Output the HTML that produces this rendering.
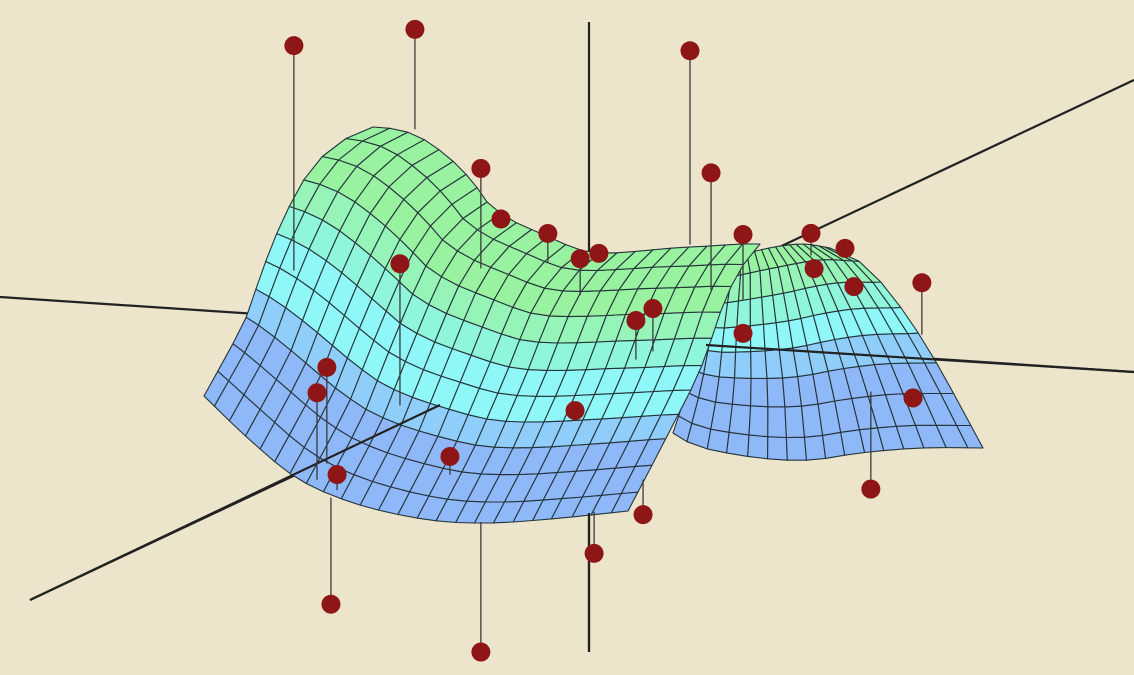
<!DOCTYPE html>
<html><head><meta charset="utf-8"><style>
html,body{margin:0;padding:0;background:#ede4cc;}
svg{display:block;}
</style></head><body>
<svg id="chart" width="1134" height="675" viewBox="0 0 1134 675">
<rect width="1134" height="675" fill="#ede4cc"/>
<g id="axesBack"></g>
<g id="surf"></g>
<g id="axesFront"></g>
<g id="pts"></g>
</svg>
<script>
// scatter points (world coords)
const ptX = [-0.868,-0.512,0.297,-0.318,0.359,-0.259,-0.121,-0.026,0.029,0.453,0.653,0.753,0.662,0.779,0.979,-0.556,0.138,0.188,0.453,-0.771,-0.8,-0.041,-0.409,-0.741,0.953,0.829,0.159,0.015,-0.759,-0.318];
const ptY = [0,0,0,0,0,0,0,0,0,0,0,0,0,0,0,0,0,0,0,0,0,0,0,0,0,0,0,0,0,0];
const ptZ = [2.10,2.28,2.24,1.24,1.31,0.86,0.77,0.59,0.64,0.85,0.89,0.79,0.62,0.50,0.56,0.47,0.14,0.24,0.09,-0.36,-0.56,-0.58,-0.99,-1.18,-0.33,-1.05,-1.35,-1.67,-2.18,-2.48];
// fitted surface value under each point (stem end)
const fitZ = [0.37,1.51,0.75,0.47,0.41,0.81,0.55,0.31,0.57,0.35,0.72,0.78,0.57,0.47,0.16,-0.62,-0.16,-0.09,0.15,-1.10,-1.23,-0.58,-1.13,-1.30,-0.33,-0.30,-1.08,-1.35,-1.36,-1.48];

// surface sheet boundaries (projected outline)
const leftBottom = [[204,396],[250,440],[300,480],[360,505],[430,520],[490,523],[550,519],[600,514],[628,511]];
const leftTop = [[373,127],[400,130],[425,140],[455,163],[475,185],[490,205],[515,222],[540,233],[580,250],[607,253],[640,251],[673,248],[710,246],[740,244],[760,244]];
const leftLeft = [[204,396],[225,358],[245,320],[258,283],[272,245],[290,205],[312,168],[340,142],[373,127]];
const leftRight = [[628,511],[665,440],[700,370],[725,300],[745,262],[760,244]];
const rightBottom = [[673,433],[700,447],[760,458],[810,460],[860,453],[920,448],[983,448]];
const rightTop = [[722,262],[760,250],[800,244],[830,248]];
const rightLeft = [[673,433],[690,380],[705,320],[722,262]];
const rightRight = [[983,448],[933,357],[893,297],[860,262],[830,248]];
const leftBands = [0,0,0,1,2,2,3,4,5,5,5];
const rightBands = [0,0,0,1,2,3,4,5];
const palette = ['rgb(143,184,248)','rgb(143,206,250)','rgb(143,247,248)','rgb(143,246,220)','rgb(150,244,185)','rgb(152,242,160)'];

const NS='http://www.w3.org/2000/svg';
function P(x,y,z){return [589+340*x+110*y, 336+20*x-55*y-130*z];}
function mk(tag,attrs,parent){const e=document.createElementNS(NS,tag);for(const k in attrs)e.setAttribute(k,attrs[k]);parent.appendChild(e);return e;}
function curve(pts,t){
  const n=pts.length-1;
  const cum=[0];
  for(let i=0;i<n;i++)cum.push(cum[i]+Math.hypot(pts[i+1][0]-pts[i][0],pts[i+1][1]-pts[i][1]));
  const L=cum[n]*t;
  let i=0; while(i<n-1&&cum[i+1]<L)i++;
  const s=Math.max(0,Math.min(1,(L-cum[i])/(cum[i+1]-cum[i])));
  const p0=pts[Math.max(0,i-1)],p1=pts[i],p2=pts[i+1],p3=pts[Math.min(n,i+2)];
  return [0,1].map(k=>0.5*((2*p1[k])+(-p0[k]+p2[k])*s+(2*p0[k]-5*p1[k]+4*p2[k]-p3[k])*s*s+(-p0[k]+3*p1[k]-3*p2[k]+p3[k])*s*s*s));
}
function coons(B,T,L,R,u,v){
  const b=curve(B,u),t=curve(T,u),l=curve(L,v),r=curve(R,v);
  const c00=B[0],c10=B[B.length-1],c01=T[0],c11=T[T.length-1];
  return [0,1].map(k=>(1-v)*b[k]+v*t[k]+(1-u)*l[k]+u*r[k]-((1-u)*(1-v)*c00[k]+u*(1-v)*c10[k]+(1-u)*v*c01[k]+u*v*c11[k]));
}
function sheet(B,T,L,R,nu,bands,name,parent){
  const nv=bands.length;
  for(let j=0;j<nv;j++)for(let i=0;i<nu;i++){
    const q=[[i,j],[i+1,j],[i+1,j+1],[i,j+1]].map(p=>coons(B,T,L,R,p[0]/nu,p[1]/nv));
    const e=mk('polygon',{points:q.map(p=>p[0].toFixed(1)+','+p[1].toFixed(1)).join(' '),fill:palette[bands[j]],stroke:'#24343a','stroke-width':1.1,'stroke-linejoin':'round'},parent);
    
    
  }
}
const axB=document.getElementById('axesBack');
[[0,297,1134,372],[30,600,1134,80],[589,22,589,652]].forEach((l,i)=>{
  const e=mk('line',{x1:l[0],y1:l[1],x2:l[2],y2:l[3],stroke:'#222','stroke-width':2.2},axB);
  
  
});
const sg=document.getElementById('surf');
sheet(rightBottom,rightTop,rightLeft,rightRight,16,rightBands,'surface-cell-back',sg);
sheet(leftBottom,leftTop,leftLeft,leftRight,24,leftBands,'surface-cell',sg);

const axF=document.getElementById('axesFront');
const f1=mk('line',{x1:30,y1:600,x2:440,y2:405,stroke:'#222','stroke-width':2.2},axF);


const f2=mk('line',{x1:706,y1:345,x2:1134,y2:372,stroke:'#222','stroke-width':2.2},axF);


const f3=mk('line',{x1:589,y1:513,x2:589,y2:652,stroke:'#222','stroke-width':2.2},axF);



const pg=document.getElementById('pts');
for(let k=0;k<ptX.length;k++){
  const a=P(ptX[k],ptY[k],ptZ[k]), b=P(ptX[k],ptY[k],fitZ[k]);
  const s=mk('line',{x1:a[0],y1:a[1],x2:b[0],y2:b[1],stroke:'#3a3a3a','stroke-width':1.3},pg);
  
  
}
for(let k=0;k<ptX.length;k++){
  const a=P(ptX[k],ptY[k],ptZ[k]);
  const c=mk('circle',{cx:a[0],cy:a[1],r:9.5,fill:'#8e1616'},pg);
  
  
}
</script>
</body></html>
